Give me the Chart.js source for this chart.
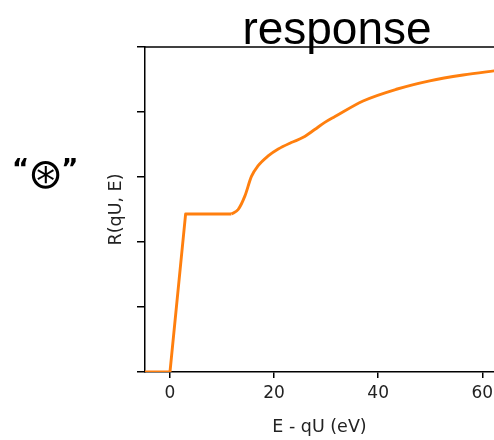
<!DOCTYPE html>
<html>
<head>
<meta charset="utf-8">
<script src="https://cdn.jsdelivr.net/npm/chart.js@4"></script>
<style>
html,body{margin:0;padding:0;background:#fff;overflow:hidden;}
#wrap{position:relative;width:494px;height:440px;}
#title{position:absolute;left:0;width:494px;font-family:"Liberation Sans",Arial,sans-serif;font-size:46px;line-height:1;text-align:center;padding-left:180px;box-sizing:border-box;top:5px;color:#000;z-index:2;}
#sym{position:absolute;left:12px;top:156px;font-family:"DejaVu Sans",sans-serif;color:#000;white-space:nowrap;line-height:1;}
#sym .q{font-size:26px;font-weight:bold;vertical-align:top;}
#sym .c{font-size:42px;vertical-align:top;position:relative;top:-3px;margin:0 -2px 0 -1px;}
canvas{position:absolute;left:0;top:0;}
</style>
</head>
<body>
<div id="wrap">
<canvas id="c" width="494" height="440"></canvas>
<div id="title">response</div>
<div id="sym"><span class="q">“</span><span class="c">⊛</span><span class="q">”</span></div>
</div>
<script>
const energyOffsets = [-5, 0, 3, 11.8, 13.1, 14.4, 15.65, 16.9, 18.8, 20.8, 23.3, 25.6, 27.8, 29.75, 31.7, 37.1, 43.5, 49.9, 56.3, 63];
const responseValues = [0, 0, 2.43, 2.43, 2.50, 2.71, 3.01, 3.17, 3.32, 3.43, 3.53, 3.61, 3.73, 3.84, 3.93, 4.17, 4.35, 4.48, 4.57, 4.64];
const xTickValues = [0, 20, 40, 60];
const yTickValues = [0, 1, 2, 3, 4, 5];

const points = energyOffsets.map((x, i) => ({x: x, y: responseValues[i]}));
const splitIndex = 3; // straight segments up to the plateau end, smooth after
const straightPart = points.slice(0, splitIndex + 1);
const smoothPart = points.slice(splitIndex);

const topSpine = {
  id: 'topSpine',
  afterDraw(chart) {
    const ctx = chart.ctx, a = chart.chartArea;
    ctx.save();
    ctx.strokeStyle = '#000';
    ctx.lineWidth = 1.5;
    ctx.beginPath();
    ctx.moveTo(a.left, Math.round(a.top));
    ctx.lineTo(a.right + 2, Math.round(a.top));
    ctx.stroke();
    ctx.restore();
  }
};

const lineStyle = {borderColor: '#ff7f0e', borderWidth: 2.9, pointRadius: 0, fill: false, borderJoinStyle: 'round'};

new Chart(document.getElementById('c'), {
  type: 'line',
  data: {
    datasets: [
      Object.assign({data: straightPart, tension: 0}, lineStyle),
      Object.assign({data: smoothPart, cubicInterpolationMode: 'monotone'}, lineStyle)
    ]
  },
  options: {
    responsive: false,
    animation: false,
    events: [],
    layout: {padding: {left: 100, top: 47, right: 0, bottom: 0}},
    plugins: {legend: {display: false}, tooltip: {enabled: false}, title: {display: false}},
    scales: {
      x: {
        type: 'linear',
        min: -4.8,
        max: 62.25,
        afterBuildTicks: s => { s.ticks = xTickValues.map(v => ({value: v})); },
        afterFit: s => { s.height = 68; s.paddingRight = 0; s.paddingLeft = 0; },
        border: {display: true, color: '#000', width: 1.5},
        grid: {display: true, drawOnChartArea: false, drawTicks: true, tickLength: 6, color: '#000', lineWidth: 1.5},
        ticks: {color: '#222', font: {family: 'DejaVu Sans', size: 17}, padding: 5, maxRotation: 0},
        title: {display: true, text: 'E - qU (eV)', color: '#222', font: {family: 'DejaVu Sans', size: 17.5}, padding: {top: 0, bottom: 2}}
      },
      y: {
        type: 'linear',
        min: 0,
        max: 5,
        afterBuildTicks: s => { s.ticks = yTickValues.map(v => ({value: v})); },
        afterFit: s => { s.width = 45; s.paddingTop = 0; s.paddingBottom = 0; },
        border: {display: true, color: '#000', width: 1.5},
        grid: {display: true, drawOnChartArea: false, drawTicks: true, tickLength: 8, color: '#000', lineWidth: 1.5},
        ticks: {callback: () => '', padding: 0},
        title: {display: true, text: 'R(qU, E)', color: '#222', font: {family: 'DejaVu Sans', size: 17.5}, padding: {top: 6, bottom: 0}}
      }
    }
  },
  plugins: [topSpine]
});
</script>
</body>
</html>
